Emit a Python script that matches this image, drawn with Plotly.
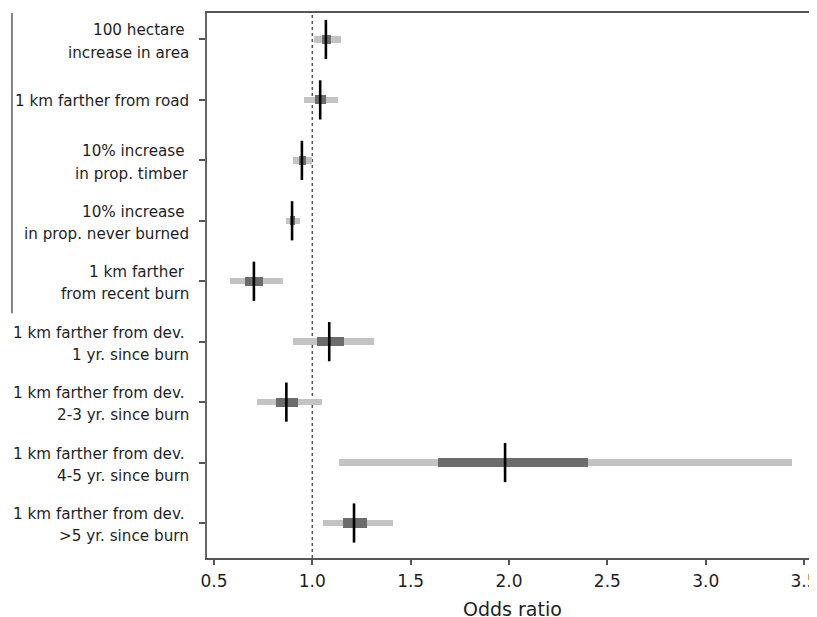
import plotly.graph_objects as go

# ---- data ----
categories = [
    "100 hectare\u00a0\nincrease in area",
    "1 km farther from road",
    "10% increase\u00a0\nin prop. timber",
    "10% increase\u00a0\nin prop. never burned",
    "1 km farther\u00a0\nfrom recent burn",
    "1 km farther from dev.\u00a0\n1 yr. since burn",
    "1 km farther from dev.\u00a0\n2-3 yr. since burn",
    "1 km farther from dev.\u00a0\n4-5 yr. since burn",
    "1 km farther from dev.\u00a0\n>5 yr. since burn",
]
rows = [1, 2, 3, 4, 5, 6, 7, 8, 9]
estimate = [1.069, 1.040, 0.947, 0.897, 0.703, 1.086, 0.868, 1.980, 1.212]
outer_lo = [1.008, 0.958, 0.900, 0.865, 0.580, 0.903, 0.719, 1.138, 1.052]
outer_hi = [1.146, 1.133, 0.996, 0.937, 0.852, 1.316, 1.050, 3.440, 1.408]
inner_lo = [1.050, 1.013, 0.930, 0.886, 0.659, 1.022, 0.815, 1.637, 1.156]
inner_hi = [1.094, 1.072, 0.967, 0.911, 0.750, 1.162, 0.928, 2.400, 1.278]
x_ticks = [0.5, 1.0, 1.5, 2.0, 2.5, 3.0, 3.5]
x_ticktext = ["0.5", "1.0", "1.5", "2.0", "2.5", "3.0", "3.5"]
x_title = "Odds ratio"

FONT = "DejaVu Sans"
TXT = "#1e1e1e"
AX = "#555555"

fig = go.Figure()
fig.add_trace(go.Bar(
    orientation="h", y=rows, base=outer_lo,
    x=[h - l for l, h in zip(outer_lo, outer_hi)],
    width=0.107, marker=dict(color="#c3c3c3", line=dict(width=0)),
    hoverinfo="skip", showlegend=False))
fig.add_trace(go.Bar(
    orientation="h", y=rows, base=inner_lo,
    x=[h - l for l, h in zip(inner_lo, inner_hi)],
    width=0.15, marker=dict(color="#6c6c6c", line=dict(width=0)),
    hoverinfo="skip", showlegend=False))
fig.add_trace(go.Scatter(
    x=estimate, y=rows, mode="markers",
    marker=dict(symbol="line-ns", size=28, color="black",
                line=dict(color="black", width=2.6)),
    hoverinfo="skip", showlegend=False))

# reference line at OR = 1
fig.add_shape(type="line", xref="x", yref="paper", x0=1, x1=1, y0=0, y1=1,
              line=dict(color="#555555", width=1.5, dash="3px,3px"), layer="below")
# bracket line grouping the first five predictors
fig.add_shape(type="line", xref="paper", yref="y", x0=-0.3197, x1=-0.3197,
              y0=0.562, y1=5.53, line=dict(color="#666666", width=1.6))

# category labels (two lines each, right aligned)
for r, cat in zip(rows, categories):
    parts = cat.split("\n")
    shifts = [9, -13.2] if len(parts) == 2 else [-1.5]
    for p, s in zip(parts, shifts):
        fig.add_annotation(x=0, xref="paper", y=r, yref="y", text=p,
                           xanchor="right", yanchor="middle", xshift=-16, yshift=s,
                           showarrow=False, font=dict(family=FONT, size=15.2, color=TXT))

fig.add_annotation(x=0.5, xref="paper", y=0, yref="paper", text=x_title,
                   xanchor="center", yanchor="middle", yshift=-50.5, showarrow=False,
                   font=dict(family=FONT, size=19, color=TXT))

# the page body has an 8px default margin, so the figure is 8px smaller
fig.update_layout(
    width=809, height=609, autosize=False,
    margin=dict(l=199, r=0, t=4.5, b=59, pad=0),
    paper_bgcolor="white", plot_bgcolor="white",
    barmode="overlay", bargap=0,
    xaxis=dict(range=[0.4645, 3.566], tickvals=x_ticks, ticktext=x_ticktext,
               ticks="outside", ticklen=5, tickwidth=1.5, tickcolor=AX,
               showline=True, linecolor=AX, linewidth=1.5, mirror=True,
               showgrid=False, zeroline=False, ticklabelstandoff=2,
               ticklabeloverflow="allow",
               tickfont=dict(family=FONT, size=17, color=TXT)),
    yaxis=dict(range=[9.579, 0.562], tickvals=rows, showticklabels=False,
               ticks="outside", ticklen=6, tickwidth=1.5, tickcolor=AX,
               showline=True, linecolor="#666666", linewidth=1.5,
               showgrid=False, zeroline=False),
)

fig.write_html("out.html")
